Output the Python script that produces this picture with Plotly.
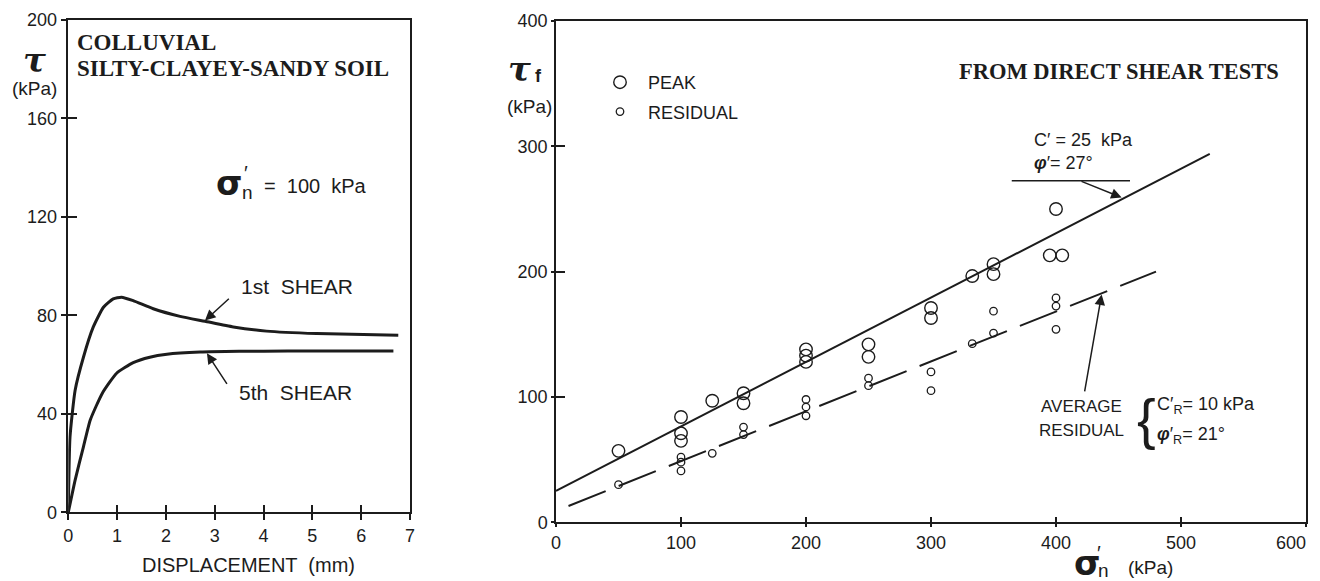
import plotly.graph_objects as go

# ---------------- data ----------------
# Left panel: shear stress vs displacement (sigma'n = 100 kPa)
disp_1st = [0, 0.035, 0.14, 0.31, 0.51, 0.72, 0.92, 1.09, 1.33, 1.74, 2.29, 2.8, 3.38, 4.06, 5.09, 6.76]
tau_1st = [0, 30.6, 49.6, 63.0, 75.2, 83.3, 86.7, 87.4, 86.0, 82.7, 79.6, 77.6, 75.3, 73.6, 72.6, 71.9]
disp_5th = [0, 0.14, 0.31, 0.45, 0.7, 0.99, 1.33, 1.67, 2.02, 2.7, 3.5, 4.5, 5.5, 6.66]
tau_5th = [0, 13.1, 26.6, 37.5, 48.5, 56.5, 60.8, 63.0, 64.2, 65.1, 65.4, 65.5, 65.5, 65.5]

# Right panel: failure envelope points
peak_sigma = [50, 100, 100, 100, 125, 150, 150, 200, 200, 200, 250, 250, 300, 300, 333, 350, 350, 395, 405, 400]
peak_tau = [57, 84, 71, 65, 97, 103, 95, 138, 133, 128, 142, 132, 171, 163, 196.5, 206, 198, 213, 213, 250]
res_sigma = [50, 100, 100, 100, 125, 150, 150, 200, 200, 200, 250, 250, 300, 300, 333, 350, 350, 400, 400, 400]
res_tau = [30, 52, 48, 41, 55, 76, 70, 98, 92, 85, 115, 109, 120, 105, 142.5, 168.5, 151, 179, 172.5, 154]

# Envelope lines (end points)
peak_line_sigma = [0, 523]
peak_line_tau = [25, 294]
res_line_sigma = [10, 480]
res_line_tau = [13, 200]

# Axis ticks
left_xticks = [0, 1, 2, 3, 4, 5, 6, 7]
left_yticks = [0, 40, 80, 120, 160, 200]
right_xticks = [0, 100, 200, 300, 400, 500, 600]
right_xlabels = ["0", "100", "200", "300", "400", "500", "600\u2007\u2007\u2007"]
right_yticks = [0, 100, 200, 300, 400]

# ---------------- styling ----------------
OFF = 8                      # page body margin of the html page
PW, PH = 1320, 581           # page (window) size
W, H = PW - OFF, PH - OFF    # figure size
INK = "#1c1c1c"
SANS = "Liberation Sans, Arial, sans-serif"
SERIF = "Liberation Serif, Times New Roman, serif"


def fx(px):
    return (px - OFF) / W


def fy(py):
    return 1 - (py - OFF) / H


def P(px, py):
    return fx(px), fy(py)


fig = go.Figure()

fig.add_trace(go.Scatter(x=disp_1st, y=tau_1st, mode="lines",
                         line=dict(color=INK, width=3, shape="spline", smoothing=0.5),
                         xaxis="x", yaxis="y", showlegend=False, hoverinfo="skip"))
fig.add_trace(go.Scatter(x=disp_5th, y=tau_5th, mode="lines",
                         line=dict(color=INK, width=3, shape="spline", smoothing=0.5),
                         xaxis="x", yaxis="y", showlegend=False, hoverinfo="skip"))

fig.add_trace(go.Scatter(x=peak_line_sigma, y=peak_line_tau, mode="lines",
                         line=dict(color=INK, width=2),
                         xaxis="x2", yaxis="y2", showlegend=False, hoverinfo="skip"))
fig.add_trace(go.Scatter(x=res_line_sigma, y=res_line_tau, mode="lines",
                         line=dict(color=INK, width=2, dash="40px,14px"),
                         xaxis="x2", yaxis="y2", showlegend=False, hoverinfo="skip"))

fig.add_trace(go.Scatter(x=peak_sigma, y=peak_tau, mode="markers", name="PEAK",
                         marker=dict(symbol="circle-open", size=12.5, color=INK, line=dict(width=1.4)),
                         xaxis="x2", yaxis="y2", legendgroup="a"))
fig.add_trace(go.Scatter(x=res_sigma, y=res_tau, mode="markers", name="RESIDUAL",
                         marker=dict(symbol="circle-open", size=7.5, color=INK, line=dict(width=1.3)),
                         xaxis="x2", yaxis="y2", legendgroup="b"))

# dummy traces to activate overlay axes (inside half of crossing ticks)
fig.add_trace(go.Scatter(x=[None], y=[None], xaxis="x3", yaxis="y3", showlegend=False, hoverinfo="skip"))
fig.add_trace(go.Scatter(x=[None], y=[None], xaxis="x4", yaxis="y4", showlegend=False, hoverinfo="skip"))

tickfont = dict(family=SANS, size=18, color=INK)
base = dict(showgrid=False, zeroline=False, showline=True, linecolor=INK, linewidth=1.5,
            ticks="outside", tickwidth=1.5, tickcolor=INK, mirror=True, tickfont=tickfont,
            automargin=False, ticklabeloverflow="allow")
inner = dict(showgrid=False, zeroline=False, showline=False, ticks="inside", tickwidth=1.5,
             tickcolor=INK, showticklabels=False, automargin=False)

ldx = [fx(68.3), fx(410)]
ldy = [fy(512.3), fy(20)]
rdx = [fx(556), fx(1306)]
rdy = [fy(522.3), fy(21)]

fig.update_layout(
    template="none",
    width=W, height=H, margin=dict(l=0, r=0, t=0, b=0, autoexpand=False),
    paper_bgcolor="white", plot_bgcolor="rgba(0,0,0,0)",
    xaxis=dict(domain=ldx, range=[0, 7], tickvals=left_xticks, ticklen=6, anchor="y", **base),
    yaxis=dict(domain=ldy, range=[0, 200], tickvals=left_yticks, ticklen=6, anchor="x", **base),
    xaxis3=dict(overlaying="x", anchor="y", range=[0, 7], tickvals=left_xticks, ticklen=7, **inner),
    yaxis3=dict(overlaying="y", anchor="x", range=[0, 200], tickvals=left_yticks, ticklen=9, **inner),
    xaxis2=dict(domain=rdx, range=[0, 600], tickvals=right_xticks, ticktext=right_xlabels,
                ticklen=3, anchor="y2", **base),
    yaxis2=dict(domain=rdy, range=[0, 400], tickvals=right_yticks, ticklen=3, anchor="x2", **base),
    xaxis4=dict(overlaying="x2", anchor="y2", range=[0, 600], tickvals=right_xticks, ticklen=5, **inner),
    yaxis4=dict(overlaying="y2", anchor="x2", range=[0, 400], tickvals=right_yticks, ticklen=9, **inner),
    legend=dict(x=fx(592), y=fy(64), xanchor="left", yanchor="top",
                font=dict(family=SANS, size=18, color=INK), bgcolor="rgba(0,0,0,0)",
                tracegroupgap=3, itemwidth=46, borderwidth=0),
    showlegend=True,
)

ann = []


def text(px, py, s, size, family=SANS, xanchor="center", yanchor="middle", color=INK):
    x, y = P(px, py)
    ann.append(dict(x=x, y=y, xref="paper", yref="paper", text=s, showarrow=False,
                    xanchor=xanchor, yanchor=yanchor, borderpad=0,
                    font=dict(family=family, size=size, color=color)))


def arrow(xr, yr, tail, tip):
    ann.append(dict(x=tip[0], y=tip[1], ax=tail[0], ay=tail[1], xref=xr, yref=yr, axref=xr, ayref=yr,
                    text="", showarrow=True, arrowhead=2, arrowsize=1.4, arrowwidth=1.5,
                    arrowcolor=INK, standoff=0, startstandoff=0))


# Left panel texts
text(76, 43, "<b>COLLUVIAL</b>", 23, SERIF, xanchor="left")
text(76, 69, "<b>SILTY-CLAYEY-SANDY SOIL</b>", 23, SERIF, xanchor="left")
text(34, 60, "<b><i>τ</i></b>", 34, "DejaVu Serif")
text(34, 89, "(kPa)", 19)
text(229, 183, "<b>σ</b>", 34, "DejaVu Sans")
text(246, 173, "′", 20)
text(247, 192, "n", 19)
text(263, 186, "=  100  kPa", 20, xanchor="left")
text(297, 286, "1st  SHEAR", 21)
text(295, 392, "5th  SHEAR", 21)
text(248, 565, "DISPLACEMENT  (mm)", 20)
arrow("x", "y", (3.32, 87.3), (2.80, 77.9))
arrow("x", "y", (3.27, 51.6), (2.84, 64.6))

# Right panel texts
text(519, 69, "<b><i>τ</i></b>", 34, "DejaVu Serif")
text(538, 76, "<b>f</b>", 18)
text(529, 106, "(kPa)", 19)
text(1280, 71, "<b>FROM DIRECT SHEAR TESTS</b>", 22.5, SERIF, xanchor="right")
text(1033, 140, "C′ = 25  kPa", 18, xanchor="left")
text(1033, 163, "<b><i>φ</i></b>′= 27°", 18, xanchor="left")
ann_line = dict(type="line", xref="x2", yref="y2", x0=364.6, x1=459.2, y0=272.5, y1=272.5,
                line=dict(color=INK, width=1.5))
arrow("x2", "y2", (419.2, 272.5), (452.5, 259.2))
text(1040, 406, "AVERAGE", 17, xanchor="left")
text(1038, 431, "RESIDUAL", 17, xanchor="left")
text(1146, 418, "{", 56, SANS)
text(1156, 405, "C′<sub>R</sub>= 10 kPa", 18, xanchor="left")
text(1156, 435, "<b><i>φ</i></b>′<sub>R</sub>= 21°", 18, xanchor="left")
arrow("x2", "y2", (422.7, 103.2), (436.5, 181.8))
text(1087, 563, "<b>σ</b>", 34, "DejaVu Sans")
text(1099, 553, "′", 20)
text(1103, 570, "n", 19)
text(1150, 567, "(kPa)", 19)

fig.update_layout(annotations=ann, shapes=[ann_line])
fig.write_html("out.html")
